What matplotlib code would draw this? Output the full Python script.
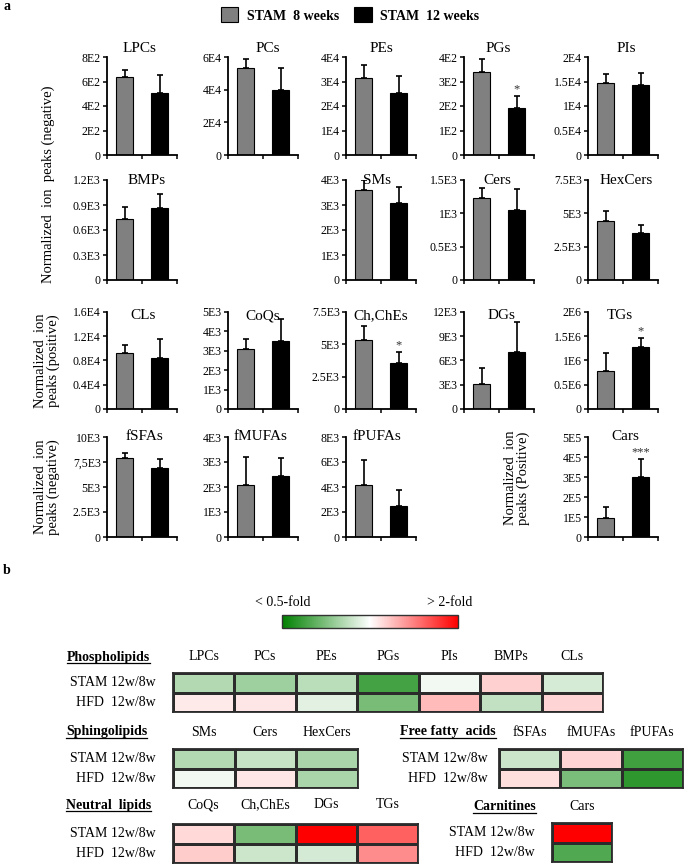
import matplotlib
matplotlib.use('Agg')
import matplotlib.pyplot as plt
import numpy as np
from matplotlib.colors import LinearSegmentedColormap, Normalize
from matplotlib.lines import Line2D
from matplotlib.cm import ScalarMappable

plt.rcParams['font.family'] = ['Liberation Serif', 'DejaVu Serif']

# ---------------- data: panel a ----------------
groups = ['STAM  8 weeks', 'STAM  12 weeks']
panel_names = ['LPCs', 'PCs', 'PEs', 'PGs', 'PIs',
               'BMPs', 'SMs', 'Cers', 'HexCers',
               'CLs', 'CoQs', 'Ch,ChEs', 'DGs', 'TGs',
               'fSFAs', 'fMUFAs', 'fPUFAs', 'Cars']
mean_8w = [640, 53000, 31500, 340, 14600,
           730, 3620, 1225, 4450,
           9300, 3100, 5350, 3050, 0.78e6,
           7950, 2070, 4150, 0.96e5]
err_8w = [55, 6000, 5300, 52, 1900,
          150, 380, 160, 750,
          1200, 520, 1100, 2000, 0.37e6,
          450, 1150, 2050, 0.54e5]
mean_12w = [510, 40000, 25500, 190, 14200,
            860, 3070, 1050, 3550,
            8450, 3500, 3570, 7000, 1.28e6,
            6900, 2450, 2500, 3.0e5]
err_12w = [140, 13000, 6800, 50, 2500,
           170, 670, 315, 575,
           3050, 1150, 800, 3800, 0.19e6,
           950, 730, 1300, 0.9e5]
significance = ['', '', '', '*', '',
                '', '', '', '',
                '', '', '*', '', '*',
                '', '', '', '***']
y_ticks = [[0, 200, 400, 600, 800], [0, 2e4, 4e4, 6e4], [0, 1e4, 2e4, 3e4, 4e4],
           [0, 100, 200, 300, 400], [0, 5e3, 1e4, 1.5e4, 2e4],
           [0, 300, 600, 900, 1200], [0, 1e3, 2e3, 3e3, 4e3], [0, 500, 1000, 1500],
           [0, 2500, 5000, 7500],
           [0, 4e3, 8e3, 12e3, 16e3], [0, 1e3, 2e3, 3e3, 4e3, 5e3], [0, 2500, 5000, 7500],
           [0, 3e3, 6e3, 9e3, 12e3], [0, 0.5e6, 1e6, 1.5e6, 2e6],
           [0, 2500, 5000, 7500, 10000], [0, 1e3, 2e3, 3e3, 4e3], [0, 2e3, 4e3, 6e3, 8e3],
           [0, 1e5, 2e5, 3e5, 4e5, 5e5]]
y_tick_labels = [['0', '2E2', '4E2', '6E2', '8E2'], ['0', '2E4', '4E4', '6E4'],
                 ['0', '1E4', '2E4', '3E4', '4E4'], ['0', '1E2', '2E2', '3E2', '4E2'],
                 ['0', '0.5E4', '1E4', '1.5E4', '2E4'],
                 ['0', '0.3E3', '0.6E3', '0.9E3', '1.2E3'], ['0', '1E3', '2E3', '3E3', '4E3'],
                 ['0', '0.5E3', '1E3', '1.5E3'], ['0', '2.5E3', '5E3', '7.5E3'],
                 ['0', '0.4E4', '0.8E4', '1.2E4', '1.6E4'], ['0', '1E3', '2E3', '3E3', '4E3', '5E3'],
                 ['0', '2.5E3', '5E3', '7.5E3'], ['0', '3E3', '6E3', '9E3', '12E3'],
                 ['0', '0.5E6', '1E6', '1.5E6', '2E6'],
                 ['0', '2.5E3', '5E3', '7,5E3', '10E3'], ['0', '1E3', '2E3', '3E3', '4E3'],
                 ['0', '2E3', '4E3', '6E3', '8E3'], ['0', '1E5', '2E5', '3E5', '4E5', '5E5']]

# ---------------- data: panel b (log2 fold change, 12w/8w) ----------------
heat_rows = ['STAM 12w/8w', 'HFD  12w/8w']
phospho_cols = ['LPCs', 'PCs', 'PEs', 'PGs', 'PIs', 'BMPs', 'CLs']
phospho_stam = [-0.30, -0.38, -0.27, -0.73, -0.05, 0.18, -0.16]
phospho_hfd = [0.08, 0.10, -0.11, -0.53, 0.27, -0.24, 0.17]
sphingo_cols = ['SMs', 'Cers', 'HexCers']
sphingo_stam = [-0.30, -0.22, -0.33]
sphingo_hfd = [-0.05, 0.10, -0.33]
ffa_cols = ['fSFAs', 'fMUFAs', 'fPUFAs']
ffa_stam = [-0.21, 0.17, -0.75]
ffa_hfd = [0.13, -0.52, -0.82]
neutral_cols = ['CoQs', 'Ch,ChEs', 'DGs', 'TGs']
neutral_stam = [0.15, -0.53, 1.0, 0.62]
neutral_hfd = [0.20, -0.20, -0.17, 0.45]
carn_cols = ['Cars']
carn_stam = [1.0]
carn_hfd = [-0.68]

# ---------------- layout ----------------
W, H = 685, 866
fig = plt.figure(figsize=(W / 100, H / 100), dpi=100)


def px_axes(x0, y0, x1, y1):
    return fig.add_axes([x0 / W, 1 - y1 / H, (x1 - x0) / W, (y1 - y0) / H])


def fx(x):
    return x / W


def fy(y):
    return 1 - y / H


panel_row = [0, 0, 0, 0, 0, 1, 1, 1, 1, 2, 2, 2, 2, 2, 3, 3, 3, 3]
panel_col = [0, 1, 2, 3, 4, 0, 2, 3, 4, 0, 1, 2, 3, 4, 0, 1, 2, 4]
title_rel_x = [0.46, 0.57, 0.5, 0.49, 0.54,
               0.56, 0.44, 0.47, 0.54,
               0.52, 0.49, 0.49, 0.53, 0.46,
               0.54, 0.47, 0.44, 0.53]
row_y = [(57, 155), (180, 280), (312, 409), (437, 537)]
title_y_px = [48, 181, 316, 436]
col_x = [107, 228, 346, 464, 588]
ax_w = 70

bar_colors = ['#808080', '#000000']
bar_handles = None
for i, name in enumerate(panel_names):
    r, c = panel_row[i], panel_col[i]
    y0, y1 = row_y[r]
    x0 = col_x[c]
    ax = px_axes(x0, y0, x0 + ax_w, y1)
    vals = [mean_8w[i], mean_12w[i]]
    errs = [err_8w[i], err_12w[i]]
    bars = ax.bar([0.5, 1.5], vals, width=0.46, color=bar_colors,
                  edgecolor='black', linewidth=0.8, zorder=2)
    if bar_handles is None:
        bar_handles = [bars[0], bars[1]]
    ax.errorbar([0.5, 1.5], vals, yerr=[[0, 0], errs], fmt='none',
                ecolor='black', elinewidth=1.2, capsize=2, capthick=1.2, zorder=3)
    ax.set_xlim(0, 2)
    ax.set_ylim(0, y_ticks[i][-1])
    ax.set_yticks(y_ticks[i])
    ax.set_yticklabels(y_tick_labels[i])
    ax.set_xticks([0, 1, 2])
    ax.set_xticklabels([])
    for s in ['top', 'right']:
        ax.spines[s].set_visible(False)
    for s in ['left', 'bottom']:
        ax.spines[s].set_linewidth(1.3)
    ax.tick_params(axis='both', direction='out', length=3, width=1.1,
                   labelsize=8.5, pad=1.5)
    hgt = y1 - y0
    ty = 1 - (title_y_px[r] - y0) / hgt
    ax.text(title_rel_x[i], ty, name, transform=ax.transAxes, ha='center',
            va='center', fontsize=11)
    if significance[i]:
        ax.annotate(significance[i], xy=(1.5, vals[1] + errs[1]),
                    xytext=(0, 0.5), textcoords='offset points',
                    ha='center', va='bottom', fontsize=9, color='#333333')

# legend
fig.legend(bar_handles, groups, loc='center', bbox_to_anchor=(fx(350), fy(15)),
           ncol=2, frameon=False, handlelength=1.25, handleheight=1.25,
           handletextpad=0.6, columnspacing=1.1,
           prop={'weight': 'bold', 'size': 10})

# y labels
fig.text(fx(48), fy(184), 'Normalized  ion  peaks (negative)', rotation=90,
         ha='center', va='center', fontsize=10.5)
fig.text(fx(47), fy(361), 'Normalized  ion\npeaks (positive)', rotation=90,
         ha='center', va='center', fontsize=10.5, linespacing=1.05)
fig.text(fx(47), fy(487), 'Normalized  ion\npeaks (negative)', rotation=90,
         ha='center', va='center', fontsize=10.5, linespacing=1.05)
fig.text(fx(517), fy(478), 'Normalized  ion\npeaks (Positive)', rotation=90,
         ha='center', va='center', fontsize=10.5, linespacing=1.05)

fig.text(fx(3), fy(6), 'a', fontsize=10, weight='bold', ha='left', va='center')
fig.text(fx(3), fy(570), 'b', fontsize=10, weight='bold', ha='left', va='center')

# ---------------- panel b ----------------
cmap = LinearSegmentedColormap.from_list('gwr', ['#008000', '#ffffff', '#ff0000'])
norm = Normalize(vmin=-1, vmax=1)

cax = px_axes(282, 615, 458, 628)
cb = fig.colorbar(ScalarMappable(norm=norm, cmap=cmap), cax=cax, orientation='horizontal')
cb.set_ticks([])
cb.outline.set_linewidth(1.0)
cb.outline.set_edgecolor('#333333')
fig.text(fx(283), fy(602), '< 0.5-fold', ha='center', va='center', fontsize=10)
fig.text(fx(450), fy(602), '> 2-fold', ha='center', va='center', fontsize=10)

underline_texts = []


def heat_block(x0, y0, x1, y1, cols, stam, hfd, header_y, label_right,
               section, section_x):
    ax = px_axes(x0, y0, x1, y1)
    data = np.array([stam, hfd])
    ax.pcolormesh(np.arange(len(cols) + 1), np.arange(3), data, cmap=cmap,
                  norm=norm, edgecolors='#2b2b2b', linewidth=1.0)
    ax.set_xlim(0, len(cols))
    ax.set_ylim(2, 0)
    ax.set_xticks([])
    ax.set_yticks([])
    for s in ax.spines.values():
        s.set_linewidth(1.3)
        s.set_edgecolor('#2b2b2b')
    cw = (x1 - x0) / len(cols)
    for j, cname in enumerate(cols):
        fig.text(fx(x0 + cw * (j + 0.5)), fy(header_y), cname, ha='center',
                 va='center', fontsize=10)
    rh = (y1 - y0) / 2
    for k, rname in enumerate(heat_rows):
        fig.text(fx(label_right), fy(y0 + rh * (k + 0.5)), rname, ha='right',
                 va='center', fontsize=10)
    t = fig.text(fx(section_x), fy(header_y), section, ha='left', va='center',
                 fontsize=10, weight='bold')
    underline_texts.append(t)


heat_block(173, 673, 603, 712, phospho_cols, phospho_stam, phospho_hfd, 657, 156,
           'Phospholipids', 67)
heat_block(173, 749, 358, 788, sphingo_cols, sphingo_stam, sphingo_hfd, 732, 156,
           'Sphingolipids', 66)
heat_block(499, 749, 683, 788, ffa_cols, ffa_stam, ffa_hfd, 732, 488,
           'Free fatty  acids', 400)
heat_block(173, 824, 418, 863, neutral_cols, neutral_stam, neutral_hfd, 805, 156,
           'Neutral  lipids', 66)
heat_block(552, 823, 612, 862, carn_cols, carn_stam, carn_hfd, 807, 535,
           'Carnitines', 473)

fig.canvas.draw()
renderer = fig.canvas.get_renderer()
for t in underline_texts:
    bb = t.get_window_extent(renderer)
    yline = bb.y0 + 1
    fig.add_artist(Line2D([bb.x0 / W, bb.x1 / W], [yline / H, yline / H],
                          transform=fig.transFigure, color='black', linewidth=0.9))

fig.savefig('out.png', dpi=100)
